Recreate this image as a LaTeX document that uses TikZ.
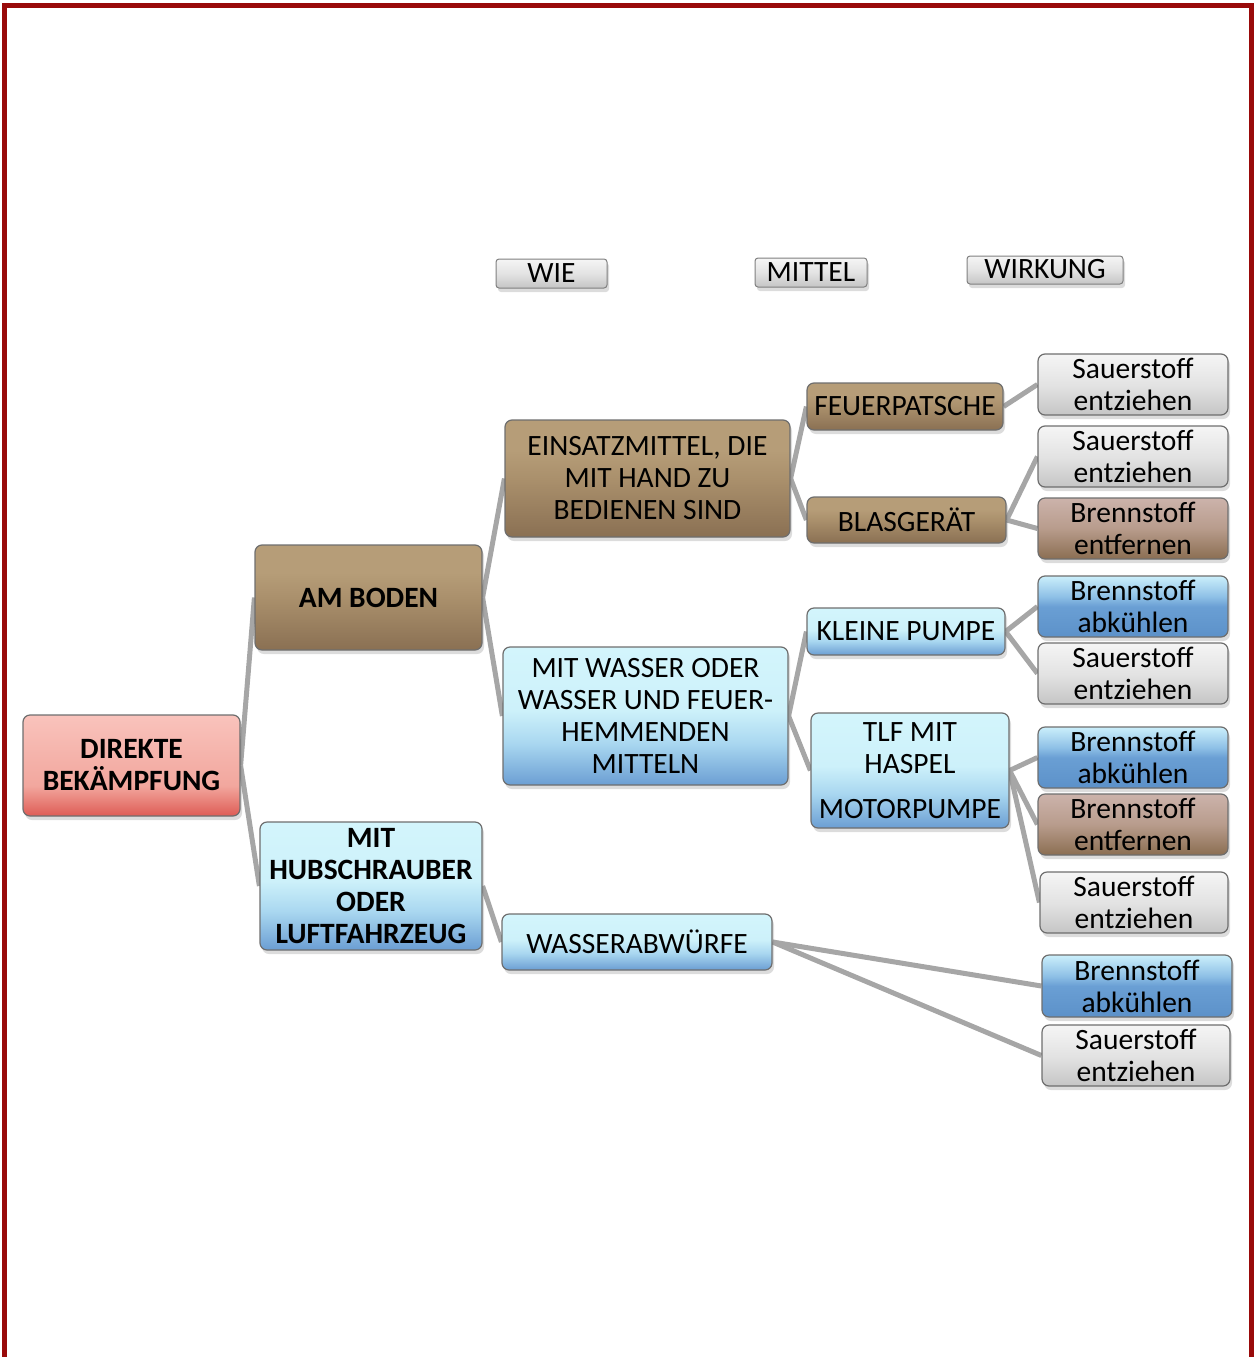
\documentclass[tikz,border=0pt]{standalone}
\usepackage{fontspec}
\setmainfont{Carlito}
\usetikzlibrary{shadows}
\definecolor{framecol}{HTML}{990A0A}
\definecolor{conncol}{HTML}{A6A6A6}
\definecolor{bline}{HTML}{6E6E6E}
\definecolor{brT}{HTML}{B69D78}
\definecolor{brM}{HTML}{AA906C}
\definecolor{brB}{HTML}{8A7053}
\definecolor{rdT}{HTML}{F9C3BC}
\definecolor{rdM}{HTML}{F2A79E}
\definecolor{rdB}{HTML}{DE5C55}
\definecolor{lbT}{HTML}{D3F5FC}
\definecolor{lbM}{HTML}{CDF1FA}
\definecolor{lbN}{HTML}{A9D7F0}
\definecolor{lbB}{HTML}{6B9ED3}
\definecolor{dbT}{HTML}{CBEFFB}
\definecolor{dbN}{HTML}{8EC0E6}
\definecolor{dbM}{HTML}{6A9FD4}
\definecolor{dbB}{HTML}{5C91C9}
\definecolor{gyT}{HTML}{F5F5F5}
\definecolor{gyM}{HTML}{E3E3E3}
\definecolor{gyB}{HTML}{C5C5C5}
\definecolor{roT}{HTML}{CCB3AB}
\definecolor{roM}{HTML}{B89C8C}
\definecolor{roB}{HTML}{8B6E52}
\pgfdeclareverticalshading{brownsh}{100bp}{color(0bp)=(brB); color(25bp)=(brB); color(50bp)=(brM); color(62bp)=(brT); color(100bp)=(brT)}
\pgfdeclareverticalshading{redsh}{100bp}{color(0bp)=(rdB); color(25bp)=(rdB); color(40bp)=(rdM); color(75bp)=(rdT); color(100bp)=(rdT)}
\pgfdeclareverticalshading{lbluesh}{100bp}{color(0bp)=(lbB); color(25bp)=(lbB); color(40bp)=(lbN); color(52bp)=(lbM); color(75bp)=(lbT); color(100bp)=(lbT)}
\pgfdeclareverticalshading{dbluesh}{100bp}{color(0bp)=(dbB); color(25bp)=(dbB); color(50bp)=(dbM); color(58bp)=(dbN); color(75bp)=(dbT); color(100bp)=(dbT)}
\pgfdeclareverticalshading{graysh}{100bp}{color(0bp)=(gyB); color(25bp)=(gyB); color(50bp)=(gyM); color(75bp)=(gyT); color(100bp)=(gyT)}
\pgfdeclareverticalshading{rosesh}{100bp}{color(0bp)=(roB); color(25bp)=(roB); color(50bp)=(roM); color(75bp)=(roT); color(100bp)=(roT)}
\pgfdeclarelayer{bg}
\pgfsetlayers{bg,main}
\tikzset{
  box/.style={rounded corners=7pt, draw=bline, line width=1.2pt, inner sep=0pt, align=center,
    font=\fontsize{29.5}{32}\selectfont,
    drop shadow={shadow xshift=2pt, shadow yshift=-4pt, opacity=0.28}},
  brownbox/.style={box, shade, shading=brownsh},
  redbox/.style={box, shade, shading=redsh},
  lbluebox/.style={box, shade, shading=lbluesh},
  dbluebox/.style={box, shade, shading=dbluesh},
  graybox/.style={box, shade, shading=graysh},
  rosebox/.style={box, shade, shading=rosesh},
  headbox/.style={graybox, rounded corners=3pt, draw=gray, line width=1pt},
  boldtxt/.style={font=\bfseries\fontsize{29.5}{32}\selectfont},
  sz/.style 2 args={minimum width=#1pt, minimum height=#2pt},
  conn/.style={draw=conncol, line width=5pt},
}
\begin{document}
\begin{tikzpicture}[x=1pt,y=-1pt]
\useasboundingbox (0,0) rectangle (1254,1357);
\draw[framecol, line width=5pt] (4.5,1362) -- (4.5,5) -- (1251,5) -- (1251,1362);

% headers
\node[headbox, sz={111}{29}] (wie) at (551.5,273.5) {WIE};
\node[headbox, sz={112}{29}] (mittel) at (811,272.5) {MITTEL};
\node[headbox, sz={156}{28}] (wirkung) at (1045,270) {\raisebox{2pt}{WIRKUNG}};

% level 0-1
\node[redbox, boldtxt, sz={217}{101}] (dir) at (131.5,765.5) {DIREKTE\\BEKÄMPFUNG};
\node[brownbox, boldtxt, sz={227}{105}] (amb) at (368.5,597.5) {AM BODEN};
\node[lbluebox, boldtxt, sz={222}{128}] (hub) at (371,886) {MIT\\HUBSCHRAUBER\\ODER\\LUFTFAHRZEUG};

% level 2
\node[brownbox, sz={285}{117}] (ein) at (647.5,478.5) {EINSATZMITTEL, DIE\\MIT HAND ZU\\BEDIENEN SIND};
\node[lbluebox, sz={285}{138}] (was) at (645.5,716) {MIT WASSER ODER\\WASSER UND FEUER-\\HEMMENDEN\\MITTELN};
\node[lbluebox, sz={270}{56}] (abw) at (637,942) {WASSERABWÜRFE};

% level 3
\node[brownbox, sz={196}{47}] (feu) at (905,406.5) {FEUERPATSCHE};
\node[brownbox, sz={199}{46}] (bla) at (906.5,520) {BLASGERÄT};
\node[lbluebox, sz={198}{47}] (kle) at (906,631.5) {KLEINE PUMPE};
\node[lbluebox, sz={198}{115}] (tlf) at (910,770.5) {TLF MIT\\HASPEL\\[13pt]MOTORPUMPE};

% level 4
\node[graybox, sz={190}{61}] (r1) at (1133,384.5) {Sauerstoff\\entziehen};
\node[graybox, sz={190}{61}] (r2) at (1133,456.5) {Sauerstoff\\entziehen};
\node[rosebox, sz={190}{61}] (r3) at (1133,528.5) {Brennstoff\\entfernen};
\node[dbluebox, sz={190}{61}] (r4) at (1133,606.5) {Brennstoff\\abkühlen};
\node[graybox, sz={190}{61}] (r5) at (1133,673.5) {Sauerstoff\\entziehen};
\node[dbluebox, sz={190}{61}] (r6) at (1133,757.5) {Brennstoff\\abkühlen};
\node[rosebox, sz={190}{61}] (r7) at (1133,824.5) {Brennstoff\\entfernen};
\node[graybox, sz={188}{61}] (r8) at (1134,902.5) {Sauerstoff\\entziehen};
\node[dbluebox, sz={190}{62}] (r9) at (1137,986) {Brennstoff\\abkühlen};
\node[graybox, sz={188}{61}] (r10) at (1136,1055.5) {Sauerstoff\\entziehen};

\begin{pgfonlayer}{bg}
\draw[conn] (dir.east) -- (amb.west);
\draw[conn] (dir.east) -- (hub.west);
\draw[conn] (amb.east) -- (ein.west);
\draw[conn] (amb.east) -- (was.west);
\draw[conn] (hub.east) -- (abw.west);
\draw[conn] (ein.east) -- (feu.west);
\draw[conn] (ein.east) -- (bla.west);
\draw[conn] (was.east) -- (kle.west);
\draw[conn] (was.east) -- (tlf.west);
\draw[conn] (feu.east) -- (r1.west);
\draw[conn] (bla.east) -- (r2.west);
\draw[conn] (bla.east) -- (r3.west);
\draw[conn] (kle.east) -- (r4.west);
\draw[conn] (kle.east) -- (r5.west);
\draw[conn] (tlf.east) -- (r6.west);
\draw[conn] (tlf.east) -- (r7.west);
\draw[conn] (tlf.east) -- (r8.west);
\draw[conn] (abw.east) -- (r9.west);
\draw[conn] (abw.east) -- (r10.west);
\end{pgfonlayer}
\end{tikzpicture}
\end{document}
